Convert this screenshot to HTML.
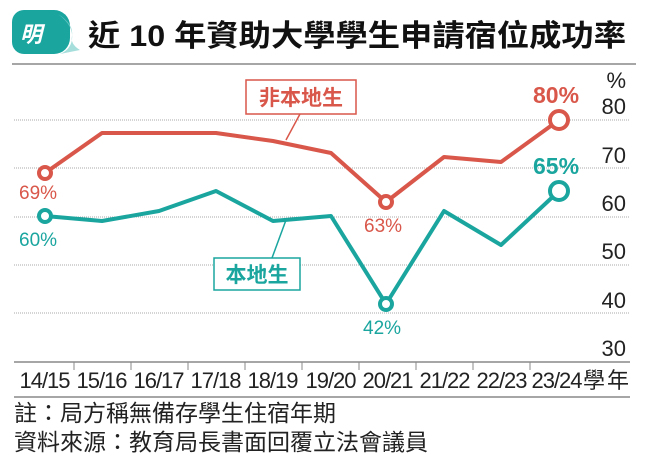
<!DOCTYPE html><html><head><meta charset="utf-8"><style>
body{margin:0;background:#fff;width:650px;height:467px;overflow:hidden;font-family:"Liberation Sans","Noto Sans CJK TC",sans-serif}
</style></head><body>
<svg width="650" height="467" viewBox="0 0 650 467" font-family="Liberation Sans, Noto Sans CJK TC, sans-serif">
<path d="M24 10 h30 a16 16 0 0 1 16 16 v12 a16 16 0 0 1 -16 16 h-30 a12 12 0 0 1 -12 -12 v-20 a12 12 0 0 1 12 -12z" fill="#1aa59f"/>
<path d="M58 14 q16 12 14 26 q-2 10 -12 14 l20 -4 q-10 -6 -8 -14 q2 -12 -14 -22z" fill="#7fd0cc" opacity="0.7"/>
<text x="20" y="42" font-size="22" fill="#fff" font-weight="bold" font-style="italic">明</text>
<text x="88" y="46" font-size="30" font-weight="bold" fill="#111" textLength="538" lengthAdjust="spacingAndGlyphs">近 10 年資助大學學生申請宿位成功率</text>
<line x1="12" y1="64" x2="636" y2="64" stroke="#888" stroke-width="1.5"/>
<g stroke="#aaa" stroke-width="1" stroke-dasharray="1,1">
<line x1="14" y1="120" x2="630" y2="120"/><line x1="14" y1="168" x2="630" y2="168"/><line x1="14" y1="217" x2="630" y2="217"/><line x1="14" y1="265" x2="630" y2="265"/><line x1="14" y1="313" x2="630" y2="313"/></g>
<g font-size="22" fill="#222" text-anchor="end"><text x="626" y="88">%</text><text x="626" y="114">80</text><text x="626" y="163">70</text><text x="626" y="211">60</text><text x="626" y="259">50</text><text x="626" y="308">40</text><text x="626" y="356">30</text></g>
<line x1="14" y1="362" x2="630" y2="362" stroke="#888" stroke-width="1.5"/>
<line x1="14" y1="397" x2="630" y2="397" stroke="#888" stroke-width="1.5"/>
<g stroke="#888"><line x1="74" y1="362" x2="74" y2="370"/><line x1="131" y1="362" x2="131" y2="370"/><line x1="188" y1="362" x2="188" y2="370"/><line x1="245" y1="362" x2="245" y2="370"/><line x1="302" y1="362" x2="302" y2="370"/><line x1="359" y1="362" x2="359" y2="370"/><line x1="416" y1="362" x2="416" y2="370"/><line x1="473" y1="362" x2="473" y2="370"/><line x1="530" y1="362" x2="530" y2="370"/></g>
<g font-size="22" fill="#222" text-anchor="middle" lengthAdjust="spacingAndGlyphs"><text x="45" y="388" textLength="51">14/15</text><text x="102" y="388" textLength="51">15/16</text><text x="159" y="388" textLength="51">16/17</text><text x="216" y="388" textLength="51">17/18</text><text x="273" y="388" textLength="51">18/19</text><text x="331" y="388" textLength="51">19/20</text><text x="388" y="388" textLength="51">20/21</text><text x="445" y="388" textLength="51">21/22</text><text x="502" y="388" textLength="51">22/23</text><text x="557" y="388" textLength="51">23/24</text><text x="606" y="388" textLength="46">學年</text></g>
<polyline fill="none" stroke="#d9574a" stroke-width="4" stroke-linejoin="round" points="45,173 102,133 159,133 216,133 273,141 331,153 386,202 444,157 501,162 559,120"/>
<polyline fill="none" stroke="#1aa59f" stroke-width="4" stroke-linejoin="round" points="45,216 102,221 159,211 216,191 273,221 331,216 386,304 444,211 501,245 559,191"/>
<g fill="#fff" stroke-width="4"><circle cx="45" cy="173" r="6" stroke="#d9574a"/><circle cx="386" cy="202" r="6" stroke="#d9574a"/><circle cx="559" cy="120" r="9" stroke="#d9574a"/><circle cx="45" cy="216" r="6" stroke="#1aa59f"/><circle cx="386" cy="304" r="6" stroke="#1aa59f"/><circle cx="559" cy="191" r="9" stroke="#1aa59f"/></g>
<g font-size="19"><text x="19" y="199" fill="#d9574a">69%</text><text x="364" y="232" fill="#d9574a">63%</text><text x="533" y="103" fill="#d9574a" font-weight="bold" font-size="23">80%</text>
<text x="19" y="246" fill="#1aa59f">60%</text><text x="363" y="334" fill="#1aa59f">42%</text><text x="533" y="174" fill="#1aa59f" font-weight="bold" font-size="23">65%</text></g>
<rect x="246" y="80" width="110" height="34" fill="#fff" stroke="#d9574a" stroke-width="1.5"/>
<line x1="300" y1="114" x2="286" y2="140" stroke="#d9574a" stroke-width="1.5"/>
<text x="301" y="105" font-size="21" font-weight="bold" fill="#d9574a" text-anchor="middle">非本地生</text>
<rect x="214" y="258" width="86" height="32" fill="#fff" stroke="#1aa59f" stroke-width="1.5"/>
<line x1="272" y1="258" x2="286" y2="220" stroke="#1aa59f" stroke-width="1.5"/>
<text x="257" y="282" font-size="21" font-weight="bold" fill="#1aa59f" text-anchor="middle">本地生</text>
<g font-size="23" fill="#222"><text x="14" y="421">註：局方稱無備存學生住宿年期</text><text x="14" y="450">資料來源：教育局長書面回覆立法會議員</text></g>
</svg></body></html>
